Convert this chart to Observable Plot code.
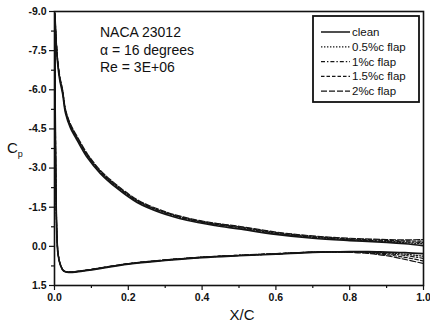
<!DOCTYPE html>
<html><head><meta charset="utf-8">
<script src="https://cdn.jsdelivr.net/npm/d3@7"></script>
<script src="https://cdn.jsdelivr.net/npm/@observablehq/plot@0.6"></script>
<style>body{margin:0;background:#fff}#chart{width:430px;height:324px}</style>
</head><body><div id="chart"></div>
<script>
const seriesNames = ["clean", "0.5%c flap", "1%c flap", "1.5%c flap", "2%c flap"];
const dashes = [null, "1.4,1.6", "4,2,1.4,2", "3.5,2", "6,2"];

const xLower = [1.0, 0.95, 0.9, 0.85, 0.8, 0.7, 0.6, 0.5, 0.4, 0.3, 0.2, 0.1, 0.06, 0.04, 0.025, 0.016, 0.01, 0.007, 0.004];
const xUpper = [0.001, 0.003, 0.005, 0.008, 0.014, 0.022, 0.03, 0.043, 0.062, 0.089, 0.124, 0.17, 0.224, 0.286, 0.359, 0.435, 0.5, 0.6, 0.7, 0.8, 0.9, 0.95, 1.0];

const cpLowerClean = [0.28, 0.24, 0.22, 0.2, 0.2, 0.23, 0.3, 0.36, 0.43, 0.54, 0.68, 0.9, 0.98, 1.0, 0.95, 0.72, 0.35, -0.2, -2.0];
const cpLower05 = [0.38, 0.3, 0.25, 0.21, 0.2, 0.22, 0.29, 0.35, 0.42, 0.53, 0.67, 0.89, 0.97, 0.99, 0.94, 0.71, 0.33, -0.25, -2.1];
const cpLower10 = [0.46, 0.35, 0.28, 0.23, 0.21, 0.22, 0.29, 0.35, 0.42, 0.53, 0.67, 0.89, 0.97, 0.99, 0.94, 0.7, 0.32, -0.3, -2.2];
const cpLower15 = [0.56, 0.42, 0.32, 0.25, 0.22, 0.22, 0.28, 0.34, 0.41, 0.52, 0.66, 0.88, 0.96, 0.98, 0.93, 0.7, 0.31, -0.32, -2.3];
const cpLower20 = [0.66, 0.5, 0.36, 0.27, 0.23, 0.22, 0.28, 0.34, 0.41, 0.52, 0.66, 0.88, 0.96, 0.98, 0.93, 0.69, 0.3, -0.35, -2.4];

const cpUpperClean = [-8.9, -8.2, -7.7, -7.1, -6.4, -5.85, -5.1, -4.55, -4.05, -3.4, -2.8, -2.22, -1.68, -1.3, -1.0, -0.8, -0.67, -0.46, -0.31, -0.22, -0.15, -0.1, -0.03];
const cpUpper05 = [-8.95, -8.3, -7.8, -7.2, -6.5, -5.95, -5.2, -4.65, -4.15, -3.5, -2.88, -2.3, -1.75, -1.36, -1.05, -0.85, -0.72, -0.5, -0.35, -0.25, -0.18, -0.14, -0.1];
const cpUpper10 = [-8.9, -8.25, -7.75, -7.15, -6.45, -5.9, -5.15, -4.6, -4.1, -3.45, -2.84, -2.26, -1.72, -1.34, -1.04, -0.84, -0.72, -0.5, -0.35, -0.26, -0.2, -0.17, -0.15];
const cpUpper15 = [-8.95, -8.3, -7.8, -7.2, -6.5, -5.95, -5.2, -4.65, -4.15, -3.5, -2.88, -2.3, -1.76, -1.37, -1.07, -0.87, -0.75, -0.53, -0.38, -0.29, -0.23, -0.21, -0.2];
const cpUpper20 = [-9.0, -8.35, -7.85, -7.25, -6.55, -6.0, -5.25, -4.7, -4.2, -3.55, -2.92, -2.34, -1.79, -1.4, -1.09, -0.89, -0.77, -0.55, -0.4, -0.31, -0.26, -0.25, -0.26];

const xMajor = [0, 0.2, 0.4, 0.6, 0.8, 1.0];
const xMinor = [0.1, 0.3, 0.5, 0.7, 0.9];
const yMajor = [-9, -7.5, -6, -4.5, -3, -1.5, 0, 1.5];
const yMinor = [-8.25, -6.75, -5.25, -3.75, -2.25, -0.75, 0.75];
const annotation = ["NACA 23012", "\u03B1 = 16 degrees", "Re = 3E+06"];

const lowers = [cpLowerClean, cpLower05, cpLower10, cpLower15, cpLower20];
const uppers = [cpUpperClean, cpUpper05, cpUpper10, cpUpper15, cpUpper20];

const seriesData = seriesNames.map((name, k) => {
  const pts = [];
  xLower.forEach((x, i) => pts.push({series: name, x, cp: lowers[k][i]}));
  xUpper.forEach((x, i) => pts.push({series: name, x, cp: uppers[k][i]}));
  return pts;
});

const font = "'Liberation Sans', Arial, Helvetica, sans-serif";
const lineMarks = seriesData.map((d, k) => Plot.line(d, {
  x: "x", y: "cp", stroke: "#151515",
  strokeWidth: k === 0 ? 1.7 : 1.2,
  strokeDasharray: dashes[k] || undefined,
  curve: "catmull-rom", clip: true
}));

const plot = Plot.plot({
  width: 430, height: 324,
  marginLeft: 54, marginRight: 7, marginTop: 11, marginBottom: 39,
  x: {domain: [0, 1]},
  y: {domain: [1.5, -9]},
  style: {fontFamily: font, fontSize: "10px", color: "#111", background: "#fff"},
  marks: [
    Plot.axisX({ticks: xMajor, tickFormat: d => d.toFixed(1), tickSize: 5, tickPadding: 3, label: null, fontSize: 10.5, fontWeight: "bold", strokeWidth: 1.2}),
    Plot.axisX({ticks: xMinor, tickFormat: () => "", tickSize: 3, label: null, strokeWidth: 1.2}),
    Plot.axisY({ticks: yMajor, tickFormat: d => d.toFixed(1), tickSize: 5, tickPadding: 3, label: null, fontSize: 10.5, fontWeight: "bold", strokeWidth: 1.2}),
    Plot.axisY({ticks: yMinor, tickFormat: () => "", tickSize: 3, label: null, strokeWidth: 1.2}),
    ...lineMarks,
    Plot.frame({stroke: "#111", strokeWidth: 1.6})
  ]
});
document.getElementById("chart").appendChild(plot);

const svg = d3.select(plot);
svg.selectAll("g[aria-label$='tick label'] text").attr("font-weight", "bold");
// axis labels
svg.append("text").attr("x", 242).attr("y", 320).attr("text-anchor", "middle")
  .attr("font-family", font).attr("font-size", 15).attr("fill", "#111").text("X/C");
const cp = svg.append("text").attr("x", 7).attr("y", 153).attr("text-anchor", "start")
  .attr("font-family", font).attr("font-size", 15).attr("fill", "#111");
cp.append("tspan").text("C");
cp.append("tspan").attr("dy", 4).attr("font-size", 9).text("p");

// annotation
annotation.forEach((t, i) => {
  svg.append("text").attr("x", 100).attr("y", 37 + i * 17.5).attr("text-anchor", "start")
    .attr("font-family", font).attr("font-size", 14).attr("fill", "#111").text(t);
});

// legend
const lg = svg.append("g");
lg.append("rect").attr("x", 313).attr("y", 16).attr("width", 106).attr("height", 86)
  .attr("fill", "#fff").attr("stroke", "#111").attr("stroke-width", 1.8);
seriesNames.forEach((name, k) => {
  const y = 32 + k * 14.8;
  lg.append("line").attr("x1", 321).attr("x2", 350).attr("y1", y).attr("y2", y)
    .attr("stroke", "#151515").attr("stroke-width", k === 0 ? 1.5 : 1.2)
    .attr("stroke-dasharray", dashes[k] || null);
  lg.append("text").attr("x", 352).attr("y", y).attr("dy", "0.35em").attr("text-anchor", "start")
    .attr("font-family", font).attr("font-size", 11.5).attr("fill", "#111").text(name);
});
</script>
</body></html>
